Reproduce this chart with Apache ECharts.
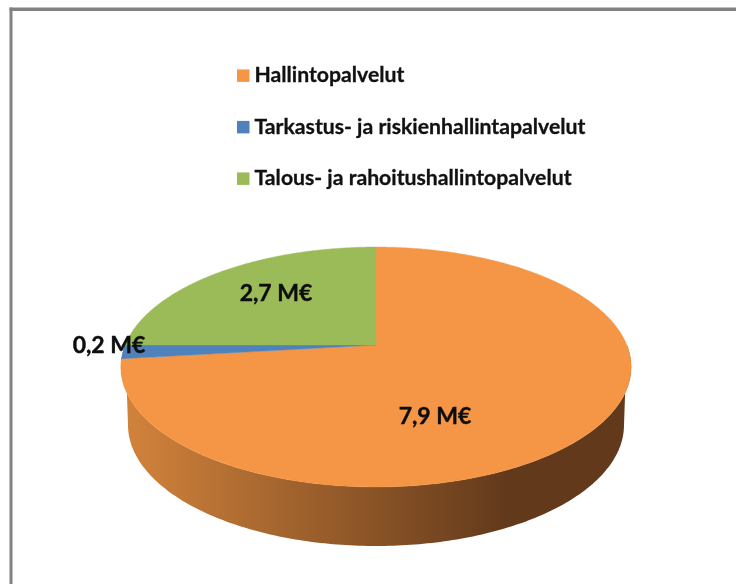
<!DOCTYPE html>
<html>
<head>
<meta charset="utf-8">
<style>html,body{margin:0;padding:0;background:#fff}#c{width:736px;height:584px}</style>
<script src="https://cdn.jsdelivr.net/npm/echarts@6/dist/echarts.min.js"></script>
</head>
<body>
<div id="c"></div>
<script>
// Data
const categories = ['Hallintopalvelut', 'Tarkastus- ja riskienhallintapalvelut', 'Talous- ja rahoitushallintopalvelut'];
const values = [7.9, 0.2, 2.7];
const valueLabels = ['7,9 M€', '0,2 M€', '2,7 M€'];

// Style
const colors = ['#f59646', '#4f81bd', '#9bbb59'];
const labelCentres = [[435, 417], [109, 346], [276, 294]];
const FONT = 'Lato, "Noto Sans", sans-serif';

// Perspective of the pie: a unit circle projected onto the tilted top face
const CX = 376, APEX_Y = 345, AX = 250.8, AY = 52.7, PERSP = 0.1833;
const BOTTOM = { cx: 376, cy: 425, rx: 248, ry: 121 };
const total = values.reduce((a, b) => a + b, 0);

function project(deg) {
  const t = deg * Math.PI / 180, u = Math.sin(t), v = -Math.cos(t), w = 1 - PERSP * v;
  return [CX + AX * u / w, (APEX_Y + AY * v) / w];
}
function sliceRange(i) {
  const before = values.slice(0, i).reduce((a, b) => a + b, 0);
  return [before / total * 360, (before + values[i]) / total * 360];
}
function sidePoints() {
  const pts = [];
  for (let d = 90; d <= 270; d += 1) {       // front of the top face, right to left
    pts.push(project(d));
  }
  for (let a = 180; a >= 0; a -= 1) {        // lower rim, left to right
    const t = a * Math.PI / 180;
    pts.push([BOTTOM.cx + BOTTOM.rx * Math.cos(t), BOTTOM.cy + BOTTOM.ry * Math.sin(t)]);
  }
  return pts;
}
function makeSeries(i) {
  return {
    type: 'custom',
    name: categories[i],
    coordinateSystem: 'none',
    silent: true,
    animation: false,
    itemStyle: { color: colors[i] },
    data: [[values[i]]],
    renderItem: function () {
      const range = sliceRange(i);
      const pts = [[CX, APEX_Y]];
      const steps = Math.max(2, Math.ceil((range[1] - range[0]) * 2));
      for (let s = 0; s <= steps; s++) {
        pts.push(project(range[0] + (range[1] - range[0]) * s / steps));
      }
      const children = [];
      if (i === 0) {
        children.push({
          type: 'polygon',
          shape: { points: sidePoints() },
          z2: 0,
          style: {
            fill: new echarts.graphic.LinearGradient(121, 0, 631, 0, [
              { offset: 0, color: '#d3843c' },
              { offset: 0.76, color: '#62391b' },
              { offset: 1, color: '#62391b' }
            ], true)
          }
        });
      }
      children.push({
        type: 'polygon',
        shape: { points: pts },
        z2: 1 + i,
        style: { fill: colors[i], stroke: colors[i], lineWidth: 0.4 }
      });
      children.push({
        type: 'text',
        z2: 20,
        style: {
          text: valueLabels[i],
          x: labelCentres[i][0],
          y: labelCentres[i][1],
          align: 'center',
          verticalAlign: 'middle',
          fill: '#0d0d0d',
          stroke: '#0d0d0d',
          lineWidth: 0.4,
          font: 'bold 23px ' + FONT
        }
      });
      return { type: 'group', children: children };
    }
  };
}

const chart = echarts.init(document.getElementById('c'), null, { renderer: 'canvas' });
chart.setOption({
  backgroundColor: '#ffffff',
  animation: false,
  legend: {
    orient: 'vertical',
    left: 232,
    top: 60,
    itemWidth: 12.5,
    itemHeight: 12.5,
    itemGap: 30.2,
    icon: 'rect',
    selectedMode: false,
    data: categories,
    textStyle: { fontFamily: FONT, fontWeight: 'bold', fontSize: 21.2, lineHeight: 20, color: '#111111', textBorderColor: '#111111', textBorderWidth: 0.3 }
  },
  graphic: [
    { type: 'rect', shape: { x: 9.5, y: 7.5, width: 727, height: 3.5 }, style: { fill: '#828282' }, silent: true },
    { type: 'rect', shape: { x: 9.5, y: 7.5, width: 3, height: 577 }, style: { fill: '#828282' }, silent: true }
  ],
  series: values.map((_, i) => makeSeries(i))
});
</script>
</body>
</html>
